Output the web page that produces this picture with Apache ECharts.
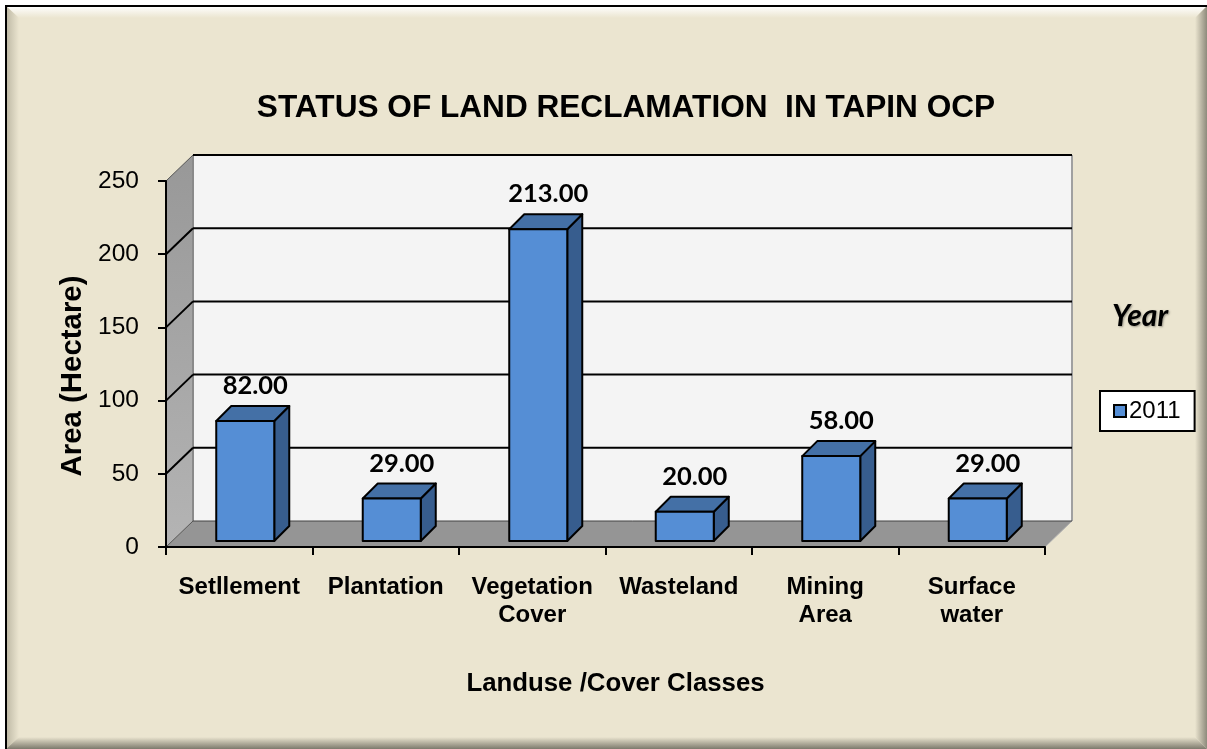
<!DOCTYPE html>
<html>
<head>
<meta charset="utf-8">
<style>html,body{margin:0;padding:0;background:#fff}#c{width:1207px;height:749px}</style>
<script src="https://cdn.jsdelivr.net/npm/echarts@6/dist/echarts.min.js"></script>
</head>
<body>
<div id="c"></div>
<script>
const categories = ['Setllement', 'Plantation', 'Vegetation\nCover', 'Wasteland', 'Mining\nArea', 'Surface\nwater'];
const seriesName = '2011';
const values = [82, 29, 213, 20, 58, 29];
const valueTicks = [0, 50, 100, 150, 200, 250];
const chartTitle = 'STATUS OF LAND RECLAMATION  IN TAPIN OCP';
const yTitle = 'Area (Hectare)';
const xTitle = 'Landuse /Cover Classes';
const legendTitle = 'Year';

const SANS = '"Liberation Sans", Arial, sans-serif';
const LABEL = 'Lato, "Open Sans", sans-serif';
const WALL_DX = 27, WALL_DY = -26;
const BAR_DX = 15, BAR_DY = -15, BAR_SHIFT = 6;

function vGrad(a, b) { return new echarts.graphic.LinearGradient(0, 0, 0, 1, [{offset:0,color:a},{offset:1,color:b}]); }
function hGrad(a, b) { return new echarts.graphic.LinearGradient(0, 0, 1, 0, [{offset:0,color:a},{offset:1,color:b}]); }

function renderWalls(params, api) {
  const cs = params.coordSys;
  const y = api.coord([0, api.value(1)])[1];
  const left = cs.x, right = cs.x + cs.width, bottom = cs.y + cs.height, top = cs.y;
  const children = [];
  if (params.dataIndex === 0) {
    children.push({type:'polygon', shape:{points:[[left+WALL_DX,top+WALL_DY],[right+WALL_DX,top+WALL_DY],[right+WALL_DX,bottom+WALL_DY],[left+WALL_DX,bottom+WALL_DY]]}, style:{fill:'#f4f4f4'}});
    children.push({type:'polygon', shape:{points:[[left,top],[left+WALL_DX,top+WALL_DY],[left+WALL_DX,bottom+WALL_DY],[left,bottom]]}, style:{fill:vGrad('#989898','#b4b4b4')}});
    children.push({type:'polygon', shape:{points:[[left,bottom],[left+WALL_DX,bottom+WALL_DY],[right+WALL_DX,bottom+WALL_DY],[right,bottom]]}, style:{fill:'#959595'}});
    children.push({type:'line', shape:{x1:left+WALL_DX,y1:top+WALL_DY,x2:left+WALL_DX,y2:bottom+WALL_DY}, style:{stroke:'#8a8a8a',lineWidth:2}});
    children.push({type:'line', shape:{x1:right+WALL_DX,y1:top+WALL_DY,x2:right+WALL_DX,y2:bottom+WALL_DY}, style:{stroke:'#a0a0a0',lineWidth:2}});
    children.push({type:'line', shape:{x1:left,y1:bottom,x2:left+WALL_DX,y2:bottom+WALL_DY}, style:{stroke:'#555',lineWidth:1}});
    children.push({type:'line', shape:{x1:right,y1:bottom,x2:right+WALL_DX,y2:bottom+WALL_DY}, style:{stroke:'#b0b0b0',lineWidth:1}});
    children.push({type:'line', shape:{x1:left+WALL_DX,y1:bottom+WALL_DY,x2:right+WALL_DX,y2:bottom+WALL_DY}, style:{stroke:'#444',lineWidth:1}});
  } else {
    const last = params.dataIndex === valueTicks.length - 1;
    children.push({type:'line', shape:{x1:left+WALL_DX,y1:y+WALL_DY,x2:right+WALL_DX,y2:y+WALL_DY}, style:{stroke:'#000',lineWidth:2}});
    children.push({type:'line', shape:{x1:left,y1:y,x2:left+WALL_DX,y2:y+WALL_DY}, style:{stroke:last?'#555':'#000',lineWidth:last?1:2}});
  }
  return {type:'group', children};
}

function renderBars(params, api) {
  const i = api.value(0), v = api.value(1);
  const band = api.size([1, 0])[0];
  const w = band * 0.396;
  const c = api.coord([i, v]), b = api.coord([i, 0]);
  const x0 = c[0] + BAR_SHIFT - w / 2, x1 = x0 + w;
  const yt = c[1] - BAR_SHIFT, yb = b[1] - BAR_SHIFT;
  const line = {stroke:'#000', lineWidth:2, lineJoin:'round'};
  return {type:'group', children:[
    {type:'polygon', shape:{points:[[x1,yt],[x1+BAR_DX,yt+BAR_DY],[x1+BAR_DX,yb+BAR_DY],[x1,yb]]}, style:Object.assign({fill:'#375d8e'},line)},
    {type:'polygon', shape:{points:[[x0,yt],[x0+BAR_DX,yt+BAR_DY],[x1+BAR_DX,yt+BAR_DY],[x1,yt]]}, style:Object.assign({fill:'#4470a6'},line)},
    {type:'rect', shape:{x:x0,y:yt,width:w,height:yb-yt}, style:Object.assign({fill:'#558ed5'},line)},
    {type:'text', style:{text:v.toFixed(2), x:(x0+x1)/2+10, y:yt-35, align:'center', verticalAlign:'middle', fontFamily:LABEL, fontWeight:'bold', fontSize:25.5, fill:'#000'}}
  ]};
}

const chart = echarts.init(document.getElementById('c'), null, {renderer:'canvas'});
chart.setOption({
  animation:false,
  backgroundColor:'#ffffff',
  graphic:{elements:[
    {type:'rect', z:-10, silent:true, shape:{x:6,y:6,width:1201,height:743}, style:{fill:'#ebe5d0'}},
    {type:'polygon', z:-9, silent:true, shape:{points:[[6,6],[1207,6],[1195,18],[19,18]]}, style:{fill:vGrad('#ffffff','#ebe5d0')}},
    {type:'polygon', z:-9, silent:true, shape:{points:[[6,6],[19,18],[19,737],[6,749]]}, style:{fill:hGrad('#bdb8a4','#ebe5d0')}},
    {type:'polygon', z:-9, silent:true, shape:{points:[[1207,6],[1195,18],[1195,737],[1207,749]]}, style:{fill:hGrad('#ebe5d0','#8e8a7b')}},
    {type:'polygon', z:-9, silent:true, shape:{points:[[6,749],[19,737],[1195,737],[1207,749]]}, style:{fill:vGrad('#ebe5d0','#7d7a6d')}},
    {type:'line', z:-8, silent:true, shape:{x1:5,y1:6,x2:1207,y2:6}, style:{stroke:'#000',lineWidth:2}},
    {type:'line', z:-8, silent:true, shape:{x1:6,y1:5,x2:6,y2:749}, style:{stroke:'#000',lineWidth:2}}
  ]},
  title:[
    {text:chartTitle, left:621, top:87, textAlign:'center', textStyle:{fontFamily:SANS, fontWeight:'bold', fontSize:31.6, color:'#000'}},
    {text:legendTitle, left:1135, top:296, textAlign:'center', textStyle:{fontFamily:LABEL, fontWeight:'bold', fontStyle:'italic', fontSize:30, color:'#000', textShadowColor:'rgba(0,0,0,0.35)', textShadowBlur:2, textShadowOffsetX:1, textShadowOffsetY:1}}
  ],
  legend:{
    data:[{name:seriesName, icon:'rect'}],
    left:1100, top:391, orient:'vertical',
    padding:[8,14,8,13], itemWidth:12, itemHeight:12, itemGap:0,
    backgroundColor:'#fff', borderColor:'#000', borderWidth:2,
    selectedMode:false,
    itemStyle:{color:'#558ed5', borderColor:'#000', borderWidth:2},
    textStyle:{fontFamily:SANS, fontSize:24, color:'#000', padding:[0,0,0,-2]}
  },
  grid:{left:166, right:162, top:181, bottom:202, containLabel:false},
  xAxis:{
    type:'category', data:categories,
    name:xTitle, nameLocation:'middle', nameGap:124,
    nameTextStyle:{fontFamily:SANS, fontWeight:'bold', fontSize:25.8, color:'#000', padding:[0,0,0,20]},
    axisLine:{lineStyle:{color:'#000',width:2}},
    axisTick:{show:true, alignWithLabel:false, length:8, lineStyle:{color:'#000',width:2}},
    axisLabel:{interval:0, margin:26, fontFamily:SANS, fontWeight:'bold', fontSize:24, lineHeight:28, color:'#000'},
    splitLine:{show:false}, z:5
  },
  yAxis:{
    type:'value', min:valueTicks[0], max:valueTicks[valueTicks.length-1], interval:50,
    name:yTitle, nameLocation:'middle', nameGap:72,
    nameTextStyle:{fontFamily:SANS, fontWeight:'bold', fontSize:29.4, color:'#000', padding:[0,24,0,0]},
    axisLine:{show:true, lineStyle:{color:'#000',width:2}},
    axisTick:{show:true, length:8, lineStyle:{color:'#000',width:2}},
    axisLabel:{margin:27, fontFamily:SANS, fontSize:24.5, color:'#000', padding:[6,0,0,0]},
    splitLine:{show:false}, z:5
  },
  series:[
    {type:'custom', name:'walls', silent:true, z:1, renderItem:renderWalls, encode:{x:0,y:1},
     data:valueTicks.map(t=>[0,t])},
    {type:'custom', name:seriesName, z:3, renderItem:renderBars, encode:{x:0,y:1},
     itemStyle:{color:'#558ed5'},
     data:values.map((v,i)=>[i,v])}
  ]
});
</script>
</body>
</html>
